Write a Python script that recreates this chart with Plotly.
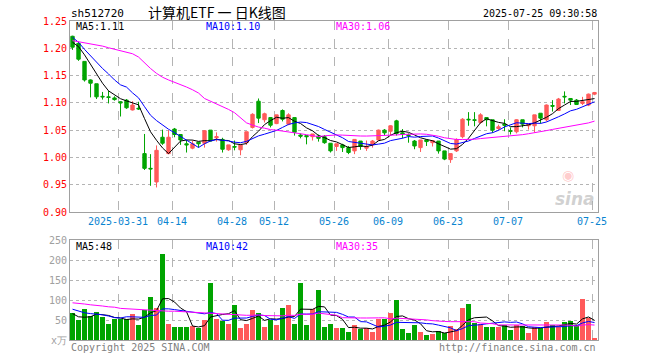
import plotly.graph_objects as go

# ---------------- data ----------------
opens = [1.222, 1.209, 1.176, 1.142, 1.135, 1.112, 1.111, 1.109, 1.102, 1.105,
         1.087, 1.090, 1.007, 0.980, 0.955, 1.037, 1.007, 1.052, 1.042, 1.025,
         1.017, 1.028, 1.026, 1.050, 1.036, 1.033, 1.014, 1.020, 1.014, 1.027,
         1.055, 1.103, 1.069, 1.073, 1.062, 1.086, 1.061, 1.073, 1.041, 1.040,
         1.038, 1.039, 1.038, 1.026, 1.020, 1.023, 1.018, 1.012, 1.030, 1.017,
         1.023, 1.032, 1.050, 1.048, 1.067, 1.045, 1.041, 1.030, 1.018, 1.032,
         1.027, 1.030, 1.012, 0.996, 1.012, 1.038, 1.070, 1.069, 1.064, 1.073,
         1.069, 1.053, 1.061, 1.049, 1.047, 1.069, 1.058, 1.058, 1.081, 1.069,
         1.095, 1.086, 1.112, 1.108, 1.105, 1.099, 1.096, 1.116]
highs = [1.223, 1.212, 1.176, 1.143, 1.135, 1.120, 1.122, 1.112, 1.103, 1.107,
         1.103, 1.102, 1.043, 1.006, 1.022, 1.051, 1.050, 1.054, 1.042, 1.032,
         1.031, 1.028, 1.050, 1.050, 1.046, 1.036, 1.023, 1.031, 1.023, 1.047,
         1.081, 1.108, 1.082, 1.074, 1.078, 1.088, 1.081, 1.073, 1.044, 1.040,
         1.043, 1.042, 1.041, 1.026, 1.025, 1.025, 1.021, 1.033, 1.030, 1.031,
         1.032, 1.051, 1.052, 1.059, 1.069, 1.052, 1.044, 1.032, 1.032, 1.033,
         1.031, 1.030, 1.012, 1.007, 1.035, 1.072, 1.083, 1.083, 1.081, 1.073,
         1.069, 1.060, 1.070, 1.055, 1.070, 1.069, 1.061, 1.078, 1.081, 1.097,
         1.105, 1.109, 1.121, 1.108, 1.107, 1.111, 1.117, 1.120]
lows = [1.197, 1.177, 1.139, 1.110, 1.107, 1.106, 1.099, 1.104, 1.075, 1.089,
        1.086, 1.087, 0.977, 0.948, 0.945, 1.023, 1.006, 1.037, 1.023, 1.009,
        1.015, 1.018, 1.018, 1.030, 1.029, 1.009, 1.012, 1.013, 1.004, 1.023,
        1.053, 1.063, 1.064, 1.055, 1.061, 1.066, 1.059, 1.040, 1.035, 1.024,
        1.031, 1.029, 1.025, 1.009, 1.012, 1.010, 1.006, 1.006, 1.014, 1.012,
        1.018, 1.031, 1.040, 1.041, 1.040, 1.035, 1.027, 1.015, 1.010, 1.021,
        1.020, 1.007, 0.995, 0.990, 1.010, 1.035, 1.058, 1.057, 1.062, 1.057,
        1.045, 1.050, 1.048, 1.042, 1.044, 1.055, 1.051, 1.046, 1.062, 1.066,
        1.084, 1.085, 1.099, 1.096, 1.096, 1.096, 1.094, 1.114]
closes = [1.202, 1.180, 1.142, 1.136, 1.111, 1.111, 1.110, 1.106, 1.100, 1.091,
          1.096, 1.089, 0.980, 0.979, 1.013, 1.026, 1.037, 1.042, 1.032, 1.023,
          1.025, 1.025, 1.049, 1.030, 1.038, 1.015, 1.023, 1.019, 1.023, 1.047,
          1.079, 1.072, 1.080, 1.059, 1.078, 1.070, 1.078, 1.046, 1.039, 1.038,
          1.043, 1.035, 1.027, 1.012, 1.025, 1.018, 1.009, 1.033, 1.020, 1.020,
          1.030, 1.050, 1.045, 1.058, 1.044, 1.043, 1.040, 1.021, 1.032, 1.029,
          1.031, 1.012, 0.997, 1.007, 1.033, 1.070, 1.069, 1.068, 1.078, 1.069,
          1.050, 1.056, 1.059, 1.048, 1.069, 1.061, 1.061, 1.078, 1.072, 1.096,
          1.094, 1.107, 1.111, 1.105, 1.097, 1.102, 1.116, 1.119]
volumes = [67.5, 49, 77, 60, 71, 58, 41, 52, 53, 52,
           66, 38, 76, 108, 79, 214, 41, 33, 33, 33,
           35, 29, 49, 142, 52, 47, 39, 87, 29, 41,
           74, 68, 33, 49, 37, 81, 87, 39, 142, 37,
           78, 124, 33, 39, 31, 31, 21, 38, 27, 31,
           21, 53, 53, 68, 99, 28, 18, 37, 21, 12,
           14, 22, 18, 35, 28, 81, 91, 43, 39, 33,
           33, 32, 37, 24, 37, 35, 18, 32, 29, 46,
           37, 32, 46, 47, 37, 102, 56, 4]

# moving-average values at the left edge (their windows start before the chart)
ma5_lead = [1.211, 1.203, 1.188, 1.170]
ma10_lead = [1.220, 1.211, 1.198, 1.186, 1.174, 1.163, 1.153, 1.142, 1.133]
ma30_lead = [1.214, 1.212, 1.211, 1.209, 1.206, 1.204, 1.201, 1.198, 1.195, 1.193,
             1.190, 1.184, 1.173, 1.163, 1.154, 1.147, 1.142, 1.138, 1.133, 1.129,
             1.124, 1.118, 1.108, 1.103, 1.099, 1.094, 1.088, 1.082, 1.072]
vma5_lead = [66, 58, 57, 58]
vma10_lead = [77, 72, 68, 66, 65, 63, 60, 56, 55]
vma30_lead = [93, 92, 90, 88, 87, 85, 83, 82, 79, 78,
              78, 77, 76, 74, 73, 72, 72, 72, 71, 70,
              69, 68, 67, 67, 65, 64, 63, 62, 62]

tick_index = [8, 17, 27, 34, 44, 53, 63, 73, 87]
tick_labels = ["2025-03-31", "04-14", "04-28", "05-12", "05-26",
               "06-09", "06-23", "07-07", "07-25"]
price_ticks = [0.90, 0.95, 1.00, 1.05, 1.10, 1.15, 1.20, 1.25]
vol_ticks = [0, 50, 100, 150, 200, 250]
vol_tick_labels = ["x万", "50", "100", "150", "200", "250"]

code = "sh512720"
title = "计算机ETF 一 日K线图"
stamp = "2025-07-25 09:30:58"
legend_price = ["MA5:1.11", "MA10:1.10", "MA30:1.06"]
legend_vol = ["MA5:48", "MA10:42", "MA30:35"]

# ---------------- helpers ----------------
def moving_avg(vals, n, lead):
    out = list(lead)
    for i in range(len(lead), len(vals)):
        out.append(sum(vals[i - n + 1:i + 1]) / n)
    return out

RED = "#ff5a5a"
GREEN = "#00a400"
MA_COLORS = ["#000000", "#0000ff", "#ff00ff"]
GRID = "#b4b4b4"
MONO = "DejaVu Sans Mono"

W, H = 660, 360
L, R, T, B = 70, 62, 21, 20
PW, PH = W - L - R, H - T - B

def px(x):
    return (x - L) / PW

def py(y):
    return (H - B - y) / PH

n = len(closes)
idx = list(range(n))
xr = [-0.42, n - 0.42]

fig = go.Figure()

fig.add_trace(go.Candlestick(
    x=idx, open=opens, high=highs, low=lows, close=closes,
    increasing=dict(line=dict(color=RED, width=1), fillcolor=RED),
    decreasing=dict(line=dict(color=GREEN, width=1), fillcolor=GREEN),
    whiskerwidth=0, hoverinfo="skip", xaxis="x", yaxis="y", showlegend=False))

for per, lead, col in zip([5, 10, 30], [ma5_lead, ma10_lead, ma30_lead], MA_COLORS):
    fig.add_trace(go.Scatter(x=idx, y=moving_avg(closes, per, lead), mode="lines",
                             line=dict(color=col, width=1), hoverinfo="skip",
                             xaxis="x", yaxis="y", showlegend=False))

vcolors = [RED if c > o else GREEN for o, c in zip(opens, closes)]
fig.add_trace(go.Bar(x=idx, y=volumes, marker=dict(color=vcolors, line=dict(width=0)),
                     width=0.8, hoverinfo="skip", xaxis="x2", yaxis="y2", showlegend=False))

for per, lead, col in zip([5, 10, 30], [vma5_lead, vma10_lead, vma30_lead], MA_COLORS):
    fig.add_trace(go.Scatter(x=idx, y=moving_avg(volumes, per, lead), mode="lines",
                             line=dict(color=col, width=1), hoverinfo="skip",
                             xaxis="x2", yaxis="y2", showlegend=False))

tickvals = [i - 0.42 for i in tick_index]
common_x = dict(range=xr, tickvals=tickvals, showgrid=True, gridcolor=GRID,
                griddash="dash", gridwidth=1, zeroline=False, ticks="",
                showline=True, mirror=True, linecolor="#a0a0a0", linewidth=1)

fig.update_layout(
    width=W, height=H, margin=dict(l=L, r=R, t=T, b=B, autoexpand=False),
    paper_bgcolor="white", plot_bgcolor="white",
    boxgap=0.2, bargap=0,
    font=dict(family=MONO, size=10),
    xaxis=dict(**common_x, anchor="y", ticktext=tick_labels,
               tickfont=dict(family=MONO, size=10, color="#0a84d0"),
               rangeslider=dict(visible=False)),
    xaxis2=dict(**common_x, anchor="y2", matches="x", showticklabels=False),
    yaxis=dict(domain=[py(212), 1], range=[0.90, 1.25], tickvals=price_ticks,
               tickformat=".2f", tickfont=dict(family=MONO, size=10, color="#ff0000"),
               showgrid=True, gridcolor=GRID, griddash="dot", zeroline=False, ticks="",
               showline=True, mirror=True, linecolor="#a0a0a0", anchor="x"),
    yaxis2=dict(domain=[0, py(240)], range=[0, 250], tickvals=vol_ticks,
                ticktext=vol_tick_labels,
                tickfont=dict(family=MONO, size=10, color="#a0a0a0"),
                showgrid=True, gridcolor=GRID, griddash="dot", zeroline=False, ticks="",
                showline=True, mirror=True, linecolor="#a0a0a0", anchor="x2"),
)

ann = []
def text(x, y, s, color="#000000", size=10, xanchor="left", family=MONO, **kw):
    ann.append(dict(x=px(x), y=py(y), xref="paper", yref="paper", text=s,
                    showarrow=False, xanchor=xanchor, yanchor="middle",
                    font=dict(family=family, size=size, color=color), **kw))

text(69, 13, code, size=11)
text(217, 12, title, size=14, xanchor="center", family="Noto Sans CJK SC")
text(599, 13, stamp, size=10, xanchor="right")
for xpos, s, col in zip([74, 204, 334], legend_price, MA_COLORS):
    text(xpos, 27, s, color=col)
for xpos, s, col in zip([74, 204, 334], legend_vol, MA_COLORS):
    text(xpos, 246, s, color=col)
text(69, 348, "Copyright 2025 SINA.COM", color="#808080")
text(598, 348, "http://finance.sina.com.cn", color="#808080", xanchor="right")
text(575, 199, "<b><i>sina</i></b>", color="rgba(170,170,170,0.55)", size=17,
     xanchor="center", family="DejaVu Sans")
text(568, 175, "◉", color="rgba(255,110,110,0.35)", size=14, xanchor="center",
     family="DejaVu Sans")
fig.update_layout(annotations=ann)

fig.write_html("out.html", config={"displayModeBar": False, "staticPlot": True},
               post_script="document.body.style.margin='0';")
